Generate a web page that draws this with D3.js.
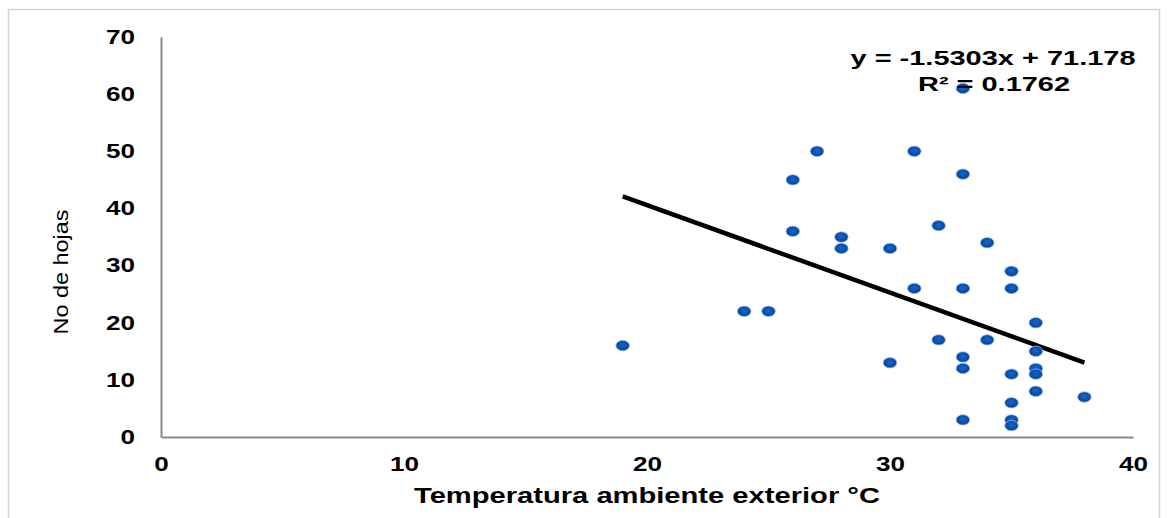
<!DOCTYPE html>
<html>
<head>
<meta charset="utf-8">
<script src="https://cdn.jsdelivr.net/npm/d3@7"></script>
<style>
    body { margin: 0; background: #ffffff; }
    text { font-family: "Liberation Sans", Arial, sans-serif; fill: #000; }
</style>
</head>
<body>
<script>
const width = 1167;
const height = 518;

// temperatura (°C) and número de hojas
const temps = [19, 24, 25, 26, 26, 27, 28, 28, 30, 30, 31, 31, 32, 32,
    33, 33, 33, 33, 33, 33, 34, 34, 35, 35, 35, 35, 35, 35,
    36, 36, 36, 36, 36, 38];
const hojas = [16, 22, 22, 45, 36, 50, 35, 33, 33, 13, 50, 26, 37, 17,
    61, 46, 26, 14, 12, 3, 34, 17, 29, 26, 11, 6, 3, 2,
    20, 15, 12, 11, 8, 7];

const xTicks = [0, 10, 20, 30, 40];
const yTicks = [0, 10, 20, 30, 40, 50, 60, 70];

const slope = -1.5303;
const intercept = 71.178;
const eqLabel = "y = -1.5303x + 71.178";
const r2Label = "R² = 0.1762";

const points = temps.map((t, i) => ({ x: t, y: hojas[i] }));

const svg = d3.select("body")
    .append("svg")
    .attr("width", width)
    .attr("height", height);

// outer frame
svg.append("rect")
    .attr("x", 8.5)
    .attr("y", 9.5)
    .attr("width", 1151)
    .attr("height", 530)
    .attr("fill", "none")
    .attr("stroke", "#d4d4d4")
    .attr("stroke-width", 1.5);

const xScale = d3.scaleLinear().domain([0, 40]).range([161, 1133]);
const yScale = d3.scaleLinear().domain([0, 70]).range([437, 37]);

const defs = svg.append("defs");
const grad = defs.append("radialGradient")
    .attr("id", "dot")
    .attr("cx", "50%").attr("cy", "45%").attr("r", "55%");
grad.append("stop").attr("offset", "0%").attr("stop-color", "#1566cc");
grad.append("stop").attr("offset", "65%").attr("stop-color", "#0850b0");
grad.append("stop").attr("offset", "100%").attr("stop-color", "#123a78");

// axes
const yAxis = svg.append("g")
    .attr("transform", `translate(${xScale(0)},0)`)
    .call(d3.axisLeft(yScale).tickValues(yTicks).tickSize(0).tickPadding(26));

const xAxis = svg.append("g")
    .attr("transform", `translate(0,${yScale(0)})`)
    .call(d3.axisBottom(xScale).tickValues(xTicks).tickSize(0).tickPadding(20));

[yAxis, xAxis].forEach(ax => {
    ax.select(".domain")
        .attr("stroke", "#8a8a8a")
        .attr("stroke-width", 2);
    ax.selectAll("text")
        .attr("font-family", "Liberation Sans, Arial, sans-serif")
        .attr("font-size", 20)
        .attr("font-weight", "bold")
        .attr("fill", "#000")
        .attr("textLength", d => String(d).length * 14.5)
        .attr("lengthAdjust", "spacingAndGlyphs");
});

// trend line over the data range
const xr = d3.extent(temps);
svg.append("line")
    .attr("x1", xScale(xr[0]))
    .attr("y1", yScale(slope * xr[0] + intercept))
    .attr("x2", xScale(xr[1]))
    .attr("y2", yScale(slope * xr[1] + intercept))
    .attr("stroke", "#000")
    .attr("stroke-width", 4.5);

// points
svg.append("g")
    .selectAll("ellipse")
    .data(points)
    .enter()
    .append("ellipse")
    .attr("cx", d => xScale(d.x))
    .attr("cy", d => yScale(d.y))
    .attr("rx", 6.8)
    .attr("ry", 5.2)
    .attr("fill", "url(#dot)")
    .attr("stroke", "#9dbde6")
    .attr("stroke-width", 0.8);

// equation
svg.append("text")
    .attr("x", 993)
    .attr("y", 65)
    .attr("text-anchor", "middle")
    .attr("font-size", 21)
    .attr("font-weight", "bold")
    .attr("textLength", 285)
    .attr("lengthAdjust", "spacingAndGlyphs")
    .text(eqLabel);

svg.append("text")
    .attr("x", 994)
    .attr("y", 91)
    .attr("text-anchor", "middle")
    .attr("font-size", 21)
    .attr("font-weight", "bold")
    .attr("textLength", 152)
    .attr("lengthAdjust", "spacingAndGlyphs")
    .text(r2Label);

// axis titles
svg.append("text")
    .attr("x", 647)
    .attr("y", 503)
    .attr("text-anchor", "middle")
    .attr("font-size", 22)
    .attr("font-weight", "bold")
    .attr("textLength", 466)
    .attr("lengthAdjust", "spacingAndGlyphs")
    .text("Temperatura ambiente exterior °C");

svg.append("text")
    .attr("transform", "translate(68,272) rotate(-90)")
    .attr("text-anchor", "middle")
    .attr("font-size", 20)
    .attr("textLength", 125)
    .attr("lengthAdjust", "spacingAndGlyphs")
    .text("No de hojas");
</script>
</body>
</html>
